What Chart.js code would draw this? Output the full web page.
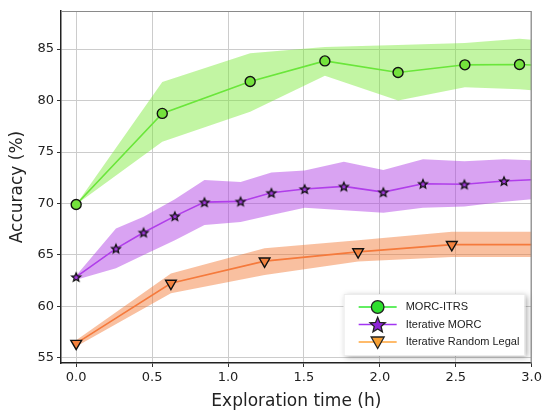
<!DOCTYPE html>
<html>
<head>
<meta charset="utf-8">
<script src="https://cdn.jsdelivr.net/npm/chart.js@4/dist/chart.umd.min.js"></script>
<style>
  html, body { margin: 0; padding: 0; background: #fff; }
  #wrap { width: 545px; height: 412px; position: relative; }
</style>
</head>
<body>
<div id="wrap"><canvas id="chart" width="545" height="412"></canvas></div>
<script>
// --- data ---
const seriesNames = ['MORC-ITRS', 'Iterative MORC', 'Iterative Random Legal'];

const itrsX     = [0, 0.567, 1.146, 1.638, 2.12, 2.56, 2.92, 3.0];
const itrsMean  = [69.9, 78.75, 81.85, 83.85, 82.72, 83.47, 83.5, 83.45];
const itrsUpper = [69.9, 81.8, 84.6, 85.2, 85.4, 85.6, 86.0, 85.9];
const itrsLower = [69.9, 76.0, 78.9, 82.4, 80.0, 81.3, 81.1, 81.0];

const morcX     = [0, 0.262, 0.444, 0.65, 0.845, 1.083, 1.286, 1.505, 1.763, 2.023, 2.284, 2.557, 2.818, 3.0];
const morcMean  = [62.86, 65.62, 67.18, 68.77, 70.13, 70.2, 71.04, 71.4, 71.66, 71.1, 71.92, 71.86, 72.18, 72.3];
const morcUpper = [63.0, 67.57, 68.7, 70.4, 72.27, 72.08, 73.0, 73.2, 74.06, 73.25, 74.3, 74.1, 74.3, 74.2];
const morcLower = [62.6, 63.7, 65.0, 66.43, 67.9, 68.2, 68.87, 69.58, 69.35, 69.1, 69.58, 69.7, 70.16, 70.4];

const randX     = [0, 0.624, 1.241, 1.857, 2.474, 3.0];
const randMean  = [56.4, 62.24, 64.4, 65.3, 66.0, 66.0];
const randUpper = [56.7, 63.2, 65.65, 66.43, 67.24, 67.24];
const randLower = [56.1, 61.27, 63.05, 64.35, 64.8, 64.8];

const xTicks = [0, 0.5, 1.0, 1.5, 2.0, 2.5, 3.0];
const yTicks = [55, 60, 65, 70, 75, 80, 85];

// --- helpers ---
const pts = (xs, ys) => xs.map((x, i) => ({ x: x, y: ys[i] }));

function starPath(ctx, x, y, r) {
    const inner = r * 0.45;
    ctx.beginPath();
    for (let i = 0; i < 10; i++) {
        const rad = (i % 2 === 0) ? r : inner;
        const a = -Math.PI / 2 + i * Math.PI / 5;
        const px = x + Math.cos(a) * rad, py = y + Math.sin(a) * rad;
        if (i === 0) ctx.moveTo(px, py); else ctx.lineTo(px, py);
    }
    ctx.closePath();
}

function makeStar(r, fill, lw) {
    const c = document.createElement('canvas');
    const s = Math.ceil(r * 2 + lw * 2 + 2);
    c.width = s; c.height = s;
    const g = c.getContext('2d');
    starPath(g, s / 2, s / 2 + 0.5, r);
    g.fillStyle = fill; g.fill();
    g.lineWidth = lw; g.strokeStyle = '#111'; g.lineJoin = 'miter'; g.stroke();
    return c;
}

const starImg = makeStar(4.6, '#a43ae0', 1.3);

// the last point of each line only carries the line to the right edge
const lastless = (n, r) => (ctx) => ctx.dataIndex < n - 1 ? r : 0;

function bandPair(xs, up, lo, color, name) {
    return [
        { label: name + ' upper', data: pts(xs, up), borderWidth: 0, pointRadius: 0, fill: false, order: 5 },
        { label: name + ' lower', data: pts(xs, lo), borderWidth: 0, pointRadius: 0, fill: '-1', backgroundColor: color, order: 5 }
    ];
}

const datasets = [
    ...bandPair(itrsX, itrsUpper, itrsLower, 'rgba(119,233,51,0.45)', seriesNames[0]),
    ...bandPair(morcX, morcUpper, morcLower, 'rgba(171,51,226,0.45)', seriesNames[1]),
    ...bandPair(randX, randUpper, randLower, 'rgba(242,115,44,0.45)', seriesNames[2]),
    {
        label: seriesNames[0], data: pts(itrsX, itrsMean), order: 1,
        borderColor: '#6ae63a', borderWidth: 1.6, fill: false,
        pointStyle: 'circle', pointRadius: lastless(itrsX.length, 5),
        pointBackgroundColor: '#74e23c', pointBorderColor: '#111', pointBorderWidth: 1.4
    },
    {
        label: seriesNames[1], data: pts(morcX, morcMean), order: 1,
        borderColor: '#b03eea', borderWidth: 1.6, fill: false,
        pointStyle: (ctx) => ctx.dataIndex < morcX.length - 1 ? starImg : 'circle',
        pointRadius: lastless(morcX.length, 5),
        pointBackgroundColor: '#a43ae0', pointBorderColor: '#111', pointBorderWidth: 1.4
    },
    {
        label: seriesNames[2], data: pts(randX, randMean), order: 1,
        borderColor: '#f57a3c', borderWidth: 1.6, fill: false,
        pointStyle: 'triangle', rotation: 180, pointRotation: 180,
        pointRadius: lastless(randX.length, 6.2),
        pointBackgroundColor: '#f3823f', pointBorderColor: '#111', pointBorderWidth: 1.4
    }
];

// frame on top/right and the legend box in the lower right corner
const framePlugin = {
    id: 'frameAndLegend',
    afterDraw(chart) {
        const ctx = chart.ctx;
        const a = chart.chartArea;
        ctx.save();
        ctx.strokeStyle = '#8a8a8a';
        ctx.lineWidth = 1.2;
        ctx.beginPath();
        ctx.moveTo(a.left, a.top + 0.5);
        ctx.lineTo(a.right - 0.5, a.top + 0.5);
        ctx.lineTo(a.right - 0.5, a.bottom);
        ctx.stroke();

        // legend
        const w = 181, h = 61;
        const bx = a.right - 7 - w, by = a.bottom - 8 - h;
        ctx.shadowColor = 'rgba(0,0,0,0.35)';
        ctx.shadowBlur = 6;
        ctx.shadowOffsetX = 2;
        ctx.shadowOffsetY = 2;
        ctx.fillStyle = '#fff';
        ctx.fillRect(bx, by, w, h);
        ctx.shadowColor = 'transparent';
        ctx.strokeStyle = '#ececec';
        ctx.lineWidth = 1;
        ctx.strokeRect(bx + 0.5, by + 0.5, w, h);

        const lineCols = ['#2ee82e', '#a235f2', '#ffa43a'];
        const rows = [by + 13, by + 30.5, by + 48];
        ctx.font = '11px "Liberation Sans", Arial, sans-serif';
        ctx.textBaseline = 'middle';
        for (let i = 0; i < 3; i++) {
            const y = rows[i];
            const mx = bx + 34;
            ctx.strokeStyle = lineCols[i];
            ctx.lineWidth = 1.6;
            ctx.beginPath();
            ctx.moveTo(bx + 15, y);
            ctx.lineTo(bx + 53, y);
            ctx.stroke();
            ctx.lineWidth = 1.3;
            ctx.strokeStyle = '#222';
            if (i === 0) {
                ctx.beginPath();
                ctx.arc(mx, y, 6.3, 0, Math.PI * 2);
                ctx.fillStyle = '#2ee02e';
                ctx.fill(); ctx.stroke();
            } else if (i === 1) {
                starPath(ctx, mx, y + 0.8, 8);
                ctx.fillStyle = '#8f24d8';
                ctx.fill(); ctx.stroke();
            } else {
                ctx.beginPath();
                ctx.moveTo(mx - 6.5, y - 5);
                ctx.lineTo(mx + 6.5, y - 5);
                ctx.lineTo(mx, y + 6.5);
                ctx.closePath();
                ctx.fillStyle = '#f7a033';
                ctx.fill(); ctx.stroke();
            }
            ctx.fillStyle = '#222';
            ctx.fillText(seriesNames[i], bx + 62, y);
        }
        ctx.restore();
    }
};

const tickFont = { family: '"DejaVu Sans", sans-serif', size: 13 };
const titleFont = { family: '"DejaVu Sans", sans-serif', size: 17 };

new Chart(document.getElementById('chart'), {
    type: 'line',
    data: { datasets: datasets },
    options: {
        responsive: false,
        animation: false,
        layout: { padding: { top: 11, right: 12, left: 0, bottom: 0 } },
        plugins: {
            legend: { display: false },
            tooltip: { enabled: false },
            filler: { propagate: false }
        },
        elements: { line: { tension: 0 } },
        scales: {
            x: {
                type: 'linear',
                min: -0.1, max: 3.0,
                afterBuildTicks: (s) => { s.ticks = xTicks.map(v => ({ value: v })); },
                afterFit: (s) => { s.height = 49; },
                ticks: {
                    font: tickFont, color: '#222', padding: 3, maxRotation: 0,
                    callback: (v) => Number(v).toFixed(1)
                },
                grid: { color: '#cccccc', lineWidth: 1, tickLength: 4, tickColor: '#333' },
                border: { color: '#222', width: 1.5 },
                title: { display: true, text: 'Exploration time (h)', font: titleFont, color: '#222', padding: { top: 2, bottom: 0 } }
            },
            y: {
                type: 'linear',
                min: 54.5, max: 88.7,
                afterBuildTicks: (s) => { s.ticks = yTicks.map(v => ({ value: v })); },
                afterFit: (s) => { s.width = 61; },
                ticks: { font: tickFont, color: '#222', padding: 3 },
                grid: { color: '#cccccc', lineWidth: 1, tickLength: 4, tickColor: '#333' },
                border: { color: '#222', width: 1.5 },
                title: { display: true, text: 'Accuracy (%)', font: titleFont, color: '#222', padding: { top: 7, bottom: 0 } }
            }
        }
    },
    plugins: [framePlugin]
});
</script>
</body>
</html>
